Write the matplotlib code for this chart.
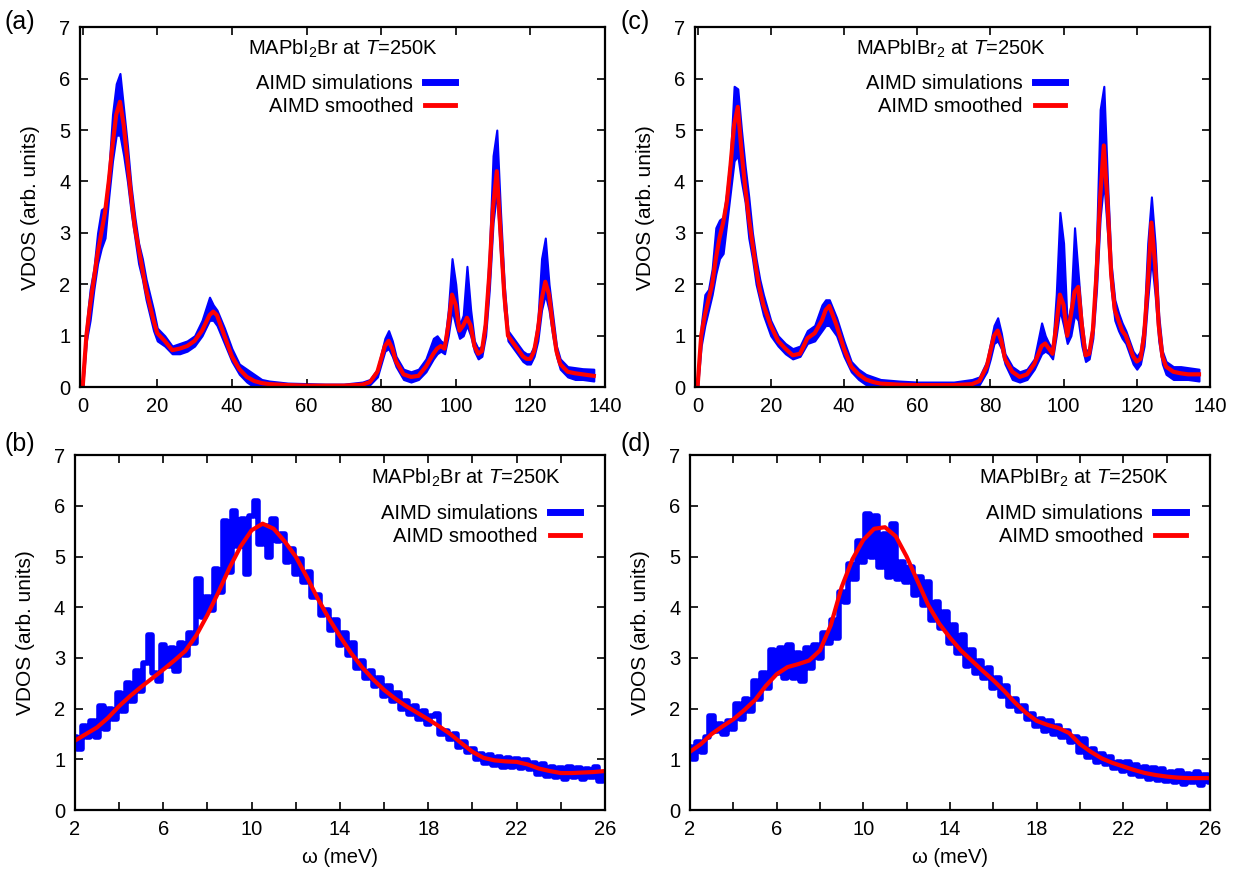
import matplotlib.pyplot as plt
import numpy as np
from matplotlib.lines import Line2D

plt.rcParams['font.family'] = ['Liberation Sans', 'DejaVu Sans']
plt.rcParams['mathtext.fontset'] = 'custom'
plt.rcParams['mathtext.rm'] = 'Liberation Sans'
plt.rcParams['mathtext.it'] = 'Liberation Sans:italic'

# ---- full range, panels (a) and (c) ----
w_top = [0, 1, 2, 3, 4, 5, 6, 7, 8, 9, 10, 11, 12, 13, 14, 15, 16, 17, 18, 19,
         20, 22, 24, 26, 28, 30, 32, 34, 35, 36, 38, 40, 42, 44, 46, 48, 50, 55, 60, 65,
         70, 75, 77, 79, 80, 81, 82, 83, 84, 86, 88, 90, 92, 94, 95, 96, 97, 98, 99, 100,
         101, 102, 103, 104, 105, 106, 107, 108, 109, 110, 111, 112, 113, 114, 115, 116, 117, 118, 119, 120,
         121, 122, 123, 124, 125, 126, 127, 128, 130, 132, 134, 137]

smooth_a = [0, 1.0, 1.6, 2.1, 2.6, 3.0, 3.4, 4.0, 4.7, 5.3, 5.55, 5.1, 4.4, 3.7, 3.1, 2.7, 2.3, 1.9, 1.6, 1.3,
            1.05, 0.9, 0.72, 0.75, 0.8, 0.9, 1.1, 1.4, 1.47, 1.4, 1.0, 0.6, 0.35, 0.2, 0.12, 0.08, 0.06, 0.04, 0.03, 0.03,
            0.03, 0.05, 0.1, 0.3, 0.55, 0.8, 0.9, 0.75, 0.5, 0.25, 0.2, 0.22, 0.4, 0.65, 0.75, 0.8, 0.75, 1.2, 1.8, 1.6,
            1.1, 1.2, 1.35, 1.2, 0.8, 0.65, 0.7, 1.2, 2.2, 3.5, 4.2, 3.0, 1.8, 1.0, 0.9, 0.8, 0.7, 0.6, 0.55, 0.55,
            0.7, 1.1, 1.7, 2.05, 1.8, 1.2, 0.7, 0.45, 0.3, 0.27, 0.25, 0.22]
hi_a = [0, 1.2, 1.9, 2.3, 3.0, 3.45, 3.5, 4.2, 5.3, 5.9, 6.1, 5.4, 4.7, 3.9, 3.3, 2.8, 2.5, 2.1, 1.8, 1.5,
        1.15, 1.0, 0.8, 0.85, 0.9, 1.0, 1.3, 1.75, 1.6, 1.5, 1.15, 0.75, 0.45, 0.35, 0.25, 0.15, 0.12, 0.08, 0.07, 0.06,
        0.06, 0.1, 0.15, 0.35, 0.65, 0.95, 1.1, 0.9, 0.6, 0.35, 0.3, 0.35, 0.55, 0.95, 1.0, 0.9, 0.85, 1.5, 2.5, 2.0,
        1.2, 1.4, 2.35, 1.5, 0.9, 0.75, 0.8, 1.4, 2.6, 4.5, 5.0, 3.4, 2.0, 1.1, 1.0, 0.9, 0.8, 0.7, 0.65, 0.65,
        0.8, 1.3, 2.5, 2.9, 2.0, 1.4, 0.8, 0.55, 0.4, 0.38, 0.36, 0.35]
lo_a = [0, 0.9, 1.3, 1.9, 2.4, 2.7, 2.9, 3.7, 4.4, 4.9, 4.9, 4.5, 4.0, 3.4, 2.9, 2.4, 2.1, 1.7, 1.4, 1.1,
        0.9, 0.8, 0.65, 0.65, 0.7, 0.8, 1.0, 1.3, 1.3, 1.2, 0.85, 0.5, 0.25, 0.1, 0.0, -0.02, 0.0, 0.0, 0.0, 0.0,
        0.0, 0.0, 0.05, 0.2, 0.45, 0.7, 0.75, 0.6, 0.4, 0.15, 0.1, 0.15, 0.3, 0.55, 0.65, 0.7, 0.65, 1.0, 1.5, 1.2,
        0.95, 1.0, 1.2, 1.0, 0.7, 0.55, 0.6, 1.0, 1.9, 3.2, 3.8, 2.6, 1.5, 0.9, 0.8, 0.7, 0.6, 0.5, 0.45, 0.45,
        0.6, 0.9, 1.5, 1.8, 1.5, 1.0, 0.6, 0.35, 0.2, 0.15, 0.15, 0.12]

smooth_c = [0, 1.0, 1.4, 1.7, 2.0, 2.5, 2.9, 3.2, 3.6, 4.3, 5.1, 5.45, 4.6, 3.9, 3.3, 2.8, 2.3, 1.9, 1.6, 1.4,
            1.2, 0.9, 0.75, 0.62, 0.65, 0.95, 1.05, 1.3, 1.5, 1.58, 1.2, 0.75, 0.4, 0.25, 0.15, 0.1, 0.07, 0.05, 0.04, 0.04,
            0.04, 0.06, 0.12, 0.4, 0.7, 1.0, 1.1, 0.9, 0.55, 0.3, 0.2, 0.25, 0.45, 0.8, 0.85, 0.75, 0.65, 1.2, 1.8, 1.6,
            1.0, 1.4, 1.85, 1.95, 1.2, 0.62, 0.65, 1.1, 2.2, 3.7, 4.7, 3.6, 2.2, 1.5, 1.3, 1.1, 1.0, 0.8, 0.6, 0.5,
            0.55, 1.0, 2.0, 3.2, 2.4, 1.2, 0.6, 0.4, 0.3, 0.27, 0.25, 0.25]
hi_c = [0, 1.2, 1.8, 1.9, 2.3, 3.1, 3.25, 3.3, 3.8, 4.5, 5.85, 5.8, 5.0, 4.3, 3.7, 3.0, 2.5, 2.1, 1.8, 1.55,
        1.3, 1.0, 0.85, 0.75, 0.8, 1.1, 1.2, 1.6, 1.7, 1.7, 1.35, 0.9, 0.5, 0.35, 0.25, 0.2, 0.15, 0.12, 0.1, 0.1,
        0.1, 0.15, 0.2, 0.5, 0.85, 1.2, 1.35, 1.05, 0.65, 0.4, 0.3, 0.35, 0.55, 1.25, 1.0, 0.85, 0.75, 1.8, 3.4, 2.8,
        1.2, 1.6, 3.1, 2.2, 1.3, 0.7, 0.75, 1.3, 2.8, 5.4, 5.85, 4.0, 2.4, 1.7, 1.45, 1.25, 1.1, 0.9, 0.7, 0.6,
        0.7, 1.3, 2.8, 3.7, 2.8, 1.4, 0.7, 0.5, 0.4, 0.4, 0.38, 0.35]
lo_c = [0, 0.8, 1.2, 1.5, 1.8, 2.2, 2.5, 2.6, 3.2, 3.8, 4.4, 4.5, 4.0, 3.6, 2.9, 2.5, 2.0, 1.7, 1.4, 1.2,
        1.0, 0.8, 0.65, 0.55, 0.6, 0.85, 0.9, 1.1, 1.2, 1.2, 1.0, 0.6, 0.3, 0.15, 0.05, -0.02, 0.0, -0.02, 0.0, -0.02,
        0.0, 0.0, 0.05, 0.3, 0.55, 0.85, 0.9, 0.75, 0.45, 0.15, 0.1, 0.15, 0.35, 0.65, 0.7, 0.65, 0.55, 1.0, 1.5, 1.2,
        0.85, 1.0, 1.4, 1.3, 0.8, 0.5, 0.55, 0.95, 1.9, 3.3, 4.0, 3.0, 1.9, 1.3, 1.1, 0.95, 0.85, 0.65, 0.45, 0.35,
        0.45, 0.8, 1.7, 2.5, 1.8, 0.9, 0.45, 0.25, 0.15, 0.15, 0.15, 0.12]

# ---- low-energy zoom, panels (b) and (d) ----
w_smooth = [2, 2.5, 3, 3.5, 4, 4.5, 5, 5.5, 6, 6.5, 7, 7.5, 8, 8.5, 9, 9.5, 10, 10.5, 11, 11.5,
            12, 12.5, 13, 13.5, 14, 14.5, 15, 15.5, 16, 16.5, 17, 17.5, 18, 18.5, 19, 19.5, 20, 20.5, 21, 21.5,
            22, 22.5, 23, 23.5, 24, 24.5, 25, 25.5, 26]
smooth_b = [1.37, 1.5, 1.63, 1.82, 2.05, 2.25, 2.43, 2.6, 2.77, 2.95, 3.14, 3.45, 3.85, 4.3, 4.78, 5.2, 5.52, 5.65, 5.55, 5.3,
            5.0, 4.6, 4.17, 3.78, 3.43, 3.1, 2.82, 2.58, 2.37, 2.2, 2.05, 1.92, 1.79, 1.65, 1.5, 1.32, 1.15, 1.03, 0.98, 0.96,
            0.95, 0.9, 0.82, 0.77, 0.73, 0.73, 0.74, 0.75, 0.77]
smooth_d = [1.15, 1.3, 1.5, 1.65, 1.79, 1.97, 2.17, 2.45, 2.68, 2.82, 2.88, 2.95, 3.15, 3.65, 4.4, 4.95, 5.33, 5.55, 5.58, 5.4,
            5.0, 4.52, 4.04, 3.68, 3.4, 3.15, 2.95, 2.75, 2.56, 2.35, 2.12, 1.92, 1.76, 1.68, 1.62, 1.52, 1.3, 1.15, 1.02, 0.93,
            0.86, 0.79, 0.73, 0.69, 0.66, 0.64, 0.63, 0.63, 0.63]

w_sim = np.round(np.arange(2.0, 26.01, 0.2), 1)
sim_b = [1.45, 1.2, 1.65, 1.45, 1.75, 1.45, 2.05, 1.6, 2.0, 1.8,
         2.3, 1.95, 2.5, 2.15, 2.75, 2.35, 2.9, 3.45, 2.7, 2.55,
         3.25, 2.85, 3.2, 2.75, 3.3, 3.05, 3.5, 3.3, 4.55, 3.8,
         4.2, 3.95, 4.75, 4.3, 5.7, 4.7, 5.9, 5.2, 5.75, 4.65,
         5.8, 6.1, 5.25, 5.6, 5.0, 5.75, 5.3, 5.45, 4.9, 5.15,
         4.65, 4.95, 4.5, 4.7, 4.2, 4.25, 3.85, 3.95, 3.55, 3.75,
         3.25, 3.5, 3.05, 3.3, 2.8, 2.95, 2.6, 2.75, 2.45, 2.6,
         2.25, 2.45, 2.15, 2.3, 2.0, 2.15, 1.9, 2.05, 1.8, 1.95,
         1.7, 1.85, 1.9, 1.5, 1.55, 1.4, 1.5, 1.25, 1.35, 1.15,
         1.2, 1.0, 1.1, 0.92, 1.08, 0.88, 1.05, 0.85, 1.02, 0.85,
         1.0, 0.82, 0.98, 0.8, 0.92, 0.72, 0.9, 0.68, 0.85, 0.65,
         0.82, 0.62, 0.85, 0.65, 0.82, 0.62, 0.8, 0.65, 0.85, 0.58,
         0.72]
sim_d = [1.25, 1.0, 1.35, 1.15, 1.45, 1.85, 1.55, 1.7, 1.5, 1.75,
         1.6, 2.1, 1.8, 2.2, 1.95, 2.55, 2.2, 2.7, 2.4, 3.15,
         2.7, 3.2, 2.6, 3.25, 2.6, 3.1, 2.55, 3.2, 2.8, 3.25,
         3.0, 3.5, 3.3, 3.75, 3.4, 4.3, 4.1, 4.85, 4.55, 5.3,
         4.9, 5.85, 5.0, 5.8, 4.8, 5.45, 4.6, 5.65, 4.55, 4.9,
         4.5, 4.8, 4.25, 4.6, 4.05, 4.5, 3.75, 4.1, 3.6, 3.9,
         3.3, 3.65, 3.1, 3.45, 2.85, 3.15, 2.7, 2.95, 2.6, 2.8,
         2.4, 2.6, 2.25, 2.45, 2.05, 2.2, 1.95, 2.05, 1.8, 1.9,
         1.65, 1.8, 1.55, 1.75, 1.5, 1.65, 1.45, 1.55, 1.35, 1.45,
         1.15, 1.4, 1.05, 1.2, 0.95, 1.1, 0.9, 1.05, 0.82, 0.95,
         0.78, 0.95, 0.72, 0.88, 0.68, 0.85, 0.62, 0.82, 0.6, 0.8,
         0.58, 0.75, 0.55, 0.78, 0.52, 0.72, 0.55, 0.75, 0.5, 0.7,
         0.55]

titles = [r'MAPbI$_2$Br at $T$=250K', r'MAPbIBr$_2$ at $T$=250K']
BLUE = '#0000ff'
RED = '#ff0000'

fig = plt.figure(figsize=(12.41, 8.76), dpi=100)
ax_a = fig.add_axes([0.0645, 0.558, 0.423, 0.411])
ax_c = fig.add_axes([0.560, 0.558, 0.415, 0.411])
ax_b = fig.add_axes([0.0604, 0.0753, 0.427, 0.405])
ax_d = fig.add_axes([0.556, 0.0753, 0.419, 0.405])


def style(ax):
    ax.set_ylim(0, 7)
    ax.set_yticks(range(8))
    for s in ax.spines.values():
        s.set_linewidth(1.6)
    ax.tick_params(direction='in', top=True, right=True, length=6, width=1.2,
                   labelsize=14.5, pad=7)
    ax.set_ylabel('VDOS (arb. units)', fontsize=15, labelpad=14)


def add_key(ax, title, tx, ty, lx, ly):
    ax.text(tx, ty, title, transform=ax.transAxes, ha='center', va='center', fontsize=14.5)
    h = [Line2D([], [], color=BLUE, lw=5), Line2D([], [], color=RED, lw=3.5)]
    ax.legend(h, ['AIMD simulations', 'AIMD smoothed'], loc='upper right',
              bbox_to_anchor=(lx, ly), frameon=False, markerfirst=False,
              fontsize=14.5, handlelength=1.5, handletextpad=0.6,
              labelspacing=0.2, borderaxespad=0, borderpad=0)


for ax, sm, hi, lo, t, tx, lx in [(ax_a, smooth_a, hi_a, lo_a, titles[0], 0.50, 0.715),
                                  (ax_c, smooth_c, hi_c, lo_c, titles[1], 0.497, 0.718)]:
    ax.fill_between(w_top, lo, hi, color=BLUE, lw=1.5)
    ax.plot(w_top, sm, color=RED, lw=3)
    ax.set_xlim(-0.7, 140)
    ax.set_xticks(range(0, 141, 20))
    style(ax)
    add_key(ax, t, tx, 0.94, lx, 0.87)

for ax, sim, sm, t in [(ax_b, sim_b, smooth_b, titles[0]), (ax_d, sim_d, smooth_d, titles[1])]:
    ax.plot(w_sim, sim, color=BLUE, lw=4, drawstyle='steps-mid')
    ax.plot(w_smooth, sm, color=RED, lw=3)
    ax.set_xlim(2, 26)
    ax.set_xticks(range(2, 27, 2))
    ax.set_xticklabels([str(v) if (v - 2) % 4 == 0 else '' for v in range(2, 27, 2)])
    style(ax)
    ax.set_xlabel('ω (meV)', fontsize=14.5, labelpad=7)
    add_key(ax, t, 0.738, 0.935, 0.953, 0.862)

for lab, x, y in [('(a)', 0.004, 0.975), ('(c)', 0.500, 0.975),
                  ('(b)', 0.004, 0.493), ('(d)', 0.500, 0.493)]:
    fig.text(x, y, lab, fontsize=18, ha='left', va='center')

fig.savefig('out.png', dpi=100)
